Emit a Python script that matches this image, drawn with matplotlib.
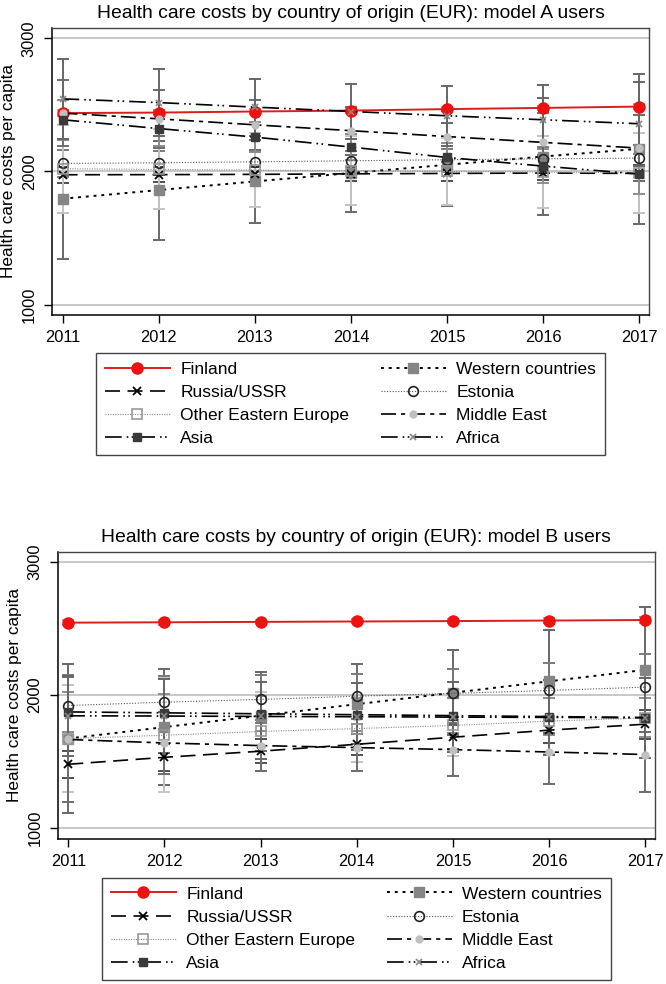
import numpy as np
import matplotlib
matplotlib.use("Agg")
import matplotlib.pyplot as plt
from matplotlib.lines import Line2D

plt.rcParams['font.family'] = ['Liberation Sans', 'DejaVu Sans']

years = [2011, 2012, 2013, 2014, 2015, 2016, 2017]
series = ["Finland", "Western countries", "Russia/USSR", "Estonia",
          "Other Eastern Europe", "Middle East", "Asia", "Africa"]

# model A users: predicted costs and CI half widths
finland_a = [2438, 2442, 2450, 2457, 2468, 2477, 2487]
western_a = [1795, 1860, 1925, 1988, 2050, 2112, 2170]
russia_a = [1975, 1976, 1978, 1982, 1985, 1988, 1985]
estonia_a = [2060, 2065, 2072, 2080, 2088, 2095, 2100]
othereast_a = [2020, 2015, 2010, 2005, 2000, 1995, 1990]
mideast_a = [2438, 2395, 2350, 2306, 2262, 2218, 2175]
asia_a = [2388, 2322, 2258, 2183, 2105, 2040, 1980]
africa_a = [2545, 2517, 2483, 2450, 2418, 2388, 2358]

finland_a_ci = [20, 18, 16, 15, 16, 18, 20]
western_a_ci = [450, 372, 312, 292, 312, 437, 562]
russia_a_ci = [60, 55, 55, 55, 55, 55, 60]
estonia_a_ci = [100, 90, 80, 75, 80, 90, 100]
othereast_a_ci = [330, 300, 280, 260, 250, 270, 300]
mideast_a_ci = [250, 220, 190, 180, 190, 220, 250]
asia_a_ci = [150, 130, 110, 100, 110, 130, 150]
africa_a_ci = [300, 253, 214, 205, 224, 262, 317]

# model B users
finland_b = [2544, 2547, 2550, 2553, 2556, 2560, 2564]
western_b = [1674, 1760, 1846, 1932, 2018, 2104, 2190]
russia_b = [1481, 1533, 1579, 1631, 1684, 1737, 1782]
estonia_b = [1922, 1947, 1968, 1992, 2013, 2035, 2060]
othereast_b = [1674, 1699, 1727, 1749, 1772, 1805, 1829]
mideast_b = [1667, 1641, 1621, 1606, 1591, 1573, 1554]
asia_b = [1874, 1867, 1860, 1853, 1846, 1839, 1832]
africa_b = [1845, 1843, 1840, 1838, 1835, 1833, 1830]

finland_b_ci = [20, 18, 16, 15, 16, 18, 22]
western_b_ci = [560, 436, 325, 299, 321, 385, 470]
russia_b_ci = [100, 100, 90, 80, 90, 100, 110]
estonia_b_ci = [230, 200, 180, 170, 180, 210, 250]
othereast_b_ci = [400, 430, 300, 250, 230, 250, 300]
mideast_b_ci = [470, 230, 193, 178, 198, 237, 282]
asia_b_ci = [150, 140, 130, 125, 130, 140, 150]
africa_b_ci = [300, 280, 260, 250, 260, 280, 300]

vals_a = dict(zip(series, [finland_a, western_a, russia_a, estonia_a,
                           othereast_a, mideast_a, asia_a, africa_a]))
cis_a = dict(zip(series, [finland_a_ci, western_a_ci, russia_a_ci, estonia_a_ci,
                          othereast_a_ci, mideast_a_ci, asia_a_ci, africa_a_ci]))
vals_b = dict(zip(series, [finland_b, western_b, russia_b, estonia_b,
                           othereast_b, mideast_b, asia_b, africa_b]))
cis_b = dict(zip(series, [finland_b_ci, western_b_ci, russia_b_ci, estonia_b_ci,
                          othereast_b_ci, mideast_b_ci, asia_b_ci, africa_b_ci]))

# line / marker styles
styles = {
    "Finland": dict(color='#d81e1e', ls='-', lw=1.4, marker='o', ms=8,
                    mfc='#ee1111', mec='#ee1111'),
    "Western countries": dict(color='black', ls=(0, (1.5, 2.5)), lw=1.4, marker='s', ms=7,
                              mfc='#858585', mec='#858585'),
    "Russia/USSR": dict(color='black', ls=(0, (9, 4.5)), lw=1.2, marker='x', ms=6,
                        mfc='black', mec='black', mew=1.3),
    "Estonia": dict(color='#555555', ls=(0, (1, 1.5)), lw=0.8, marker='o', ms=7,
                    mfc='none', mec='#222222', mew=1.2),
    "Other Eastern Europe": dict(color='#8a8a8a', ls=(0, (1, 1.2)), lw=0.8, marker='s', ms=7,
                                 mfc='none', mec='#999999', mew=1.2),
    "Middle East": dict(color='black', ls=(0, (9, 3, 2.5, 3)), lw=1.2, marker='o', ms=5,
                        mfc='#c0c0c0', mec='#c0c0c0'),
    "Asia": dict(color='black', ls=(0, (10, 3, 1, 2, 1, 3)), lw=1.2, marker='s', ms=5.5,
                 mfc='#3a3a3a', mec='#3a3a3a'),
    "Africa": dict(color='black', ls=(0, (10, 3, 1, 2, 1, 3)), lw=1.2, marker='x', ms=4.5,
                   mfc='#888888', mec='#888888', mew=1.2),
}
ci_colors = {
    "Finland": '#e08a8a', "Western countries": '#686868', "Russia/USSR": '#505050',
    "Estonia": '#7a7a7a', "Other Eastern Europe": '#c4c4c4', "Middle East": '#6c6c6c',
    "Asia": '#8c8c8c', "Africa": '#666666',
}

legend_order = ["Finland", "Russia/USSR", "Other Eastern Europe", "Asia",
                "Western countries", "Estonia", "Middle East", "Africa"]

W, H = 666, 984
fig = plt.figure(figsize=(W / 100, H / 100), dpi=100)


def draw_panel(rect, vals, cis, title, title_y, legend_top):
    ax = fig.add_axes(rect)
    for g in [1000, 2000, 3000]:
        ax.axhline(g, color='#c8c8c8', lw=1.4, zorder=1)
    for name in series:
        ax.errorbar(years, vals[name], yerr=cis[name], fmt='none', ecolor=ci_colors[name],
                    elinewidth=1.4, capsize=4, capthick=1.4, zorder=2)
    for name in series:
        ax.plot(years, vals[name], zorder=3, **styles[name])
    ax.set_xlim(2010.89, 2017.10)
    ax.set_ylim(922, 3077)
    ax.set_xticks(years)
    ax.set_yticks([1000, 2000, 3000])
    ax.set_yticklabels(['1000', '2000', '3000'], rotation=90, va='center')
    ax.tick_params(axis='both', length=6, width=1, labelsize=11.8, pad=5, colors='black')
    ax.set_ylabel('Health care costs per capita', fontsize=12.4, labelpad=4)
    for s in ['top', 'right']:
        ax.spines[s].set_color('#444444')
        ax.spines[s].set_linewidth(1)
    for s in ['left', 'bottom']:
        ax.spines[s].set_color('black')
        ax.spines[s].set_linewidth(1.1)
    cx = rect[0] + rect[2] / 2
    fig.text(cx, title_y, title, ha='center', va='center', fontsize=13.9)

    handles = [Line2D([], [], **styles[n]) for n in legend_order]
    fig.legend(handles, legend_order, ncol=2, loc='upper center',
               bbox_to_anchor=(cx, legend_top), borderaxespad=0, frameon=True,
               fancybox=False, edgecolor='#444444', fontsize=12.5, handlelength=3.75,
               columnspacing=1.8, labelspacing=0.46, borderpad=0.5, handletextpad=0.6,
               framealpha=1)
    return ax


draw_panel([52 / W, 1 - 315 / H, 597 / W, 287 / H], vals_a, cis_a,
           'Health care costs by country of origin (EUR): model A users',
           1 - 14 / H, 1 - 353 / H)
draw_panel([57.7 / W, 1 - 838.7 / H, 597.3 / W, 287 / H], vals_b, cis_b,
           'Health care costs by country of origin (EUR): model B users',
           1 - 537 / H, 1 - 877.7 / H)

fig.savefig('out.png', dpi=100)
